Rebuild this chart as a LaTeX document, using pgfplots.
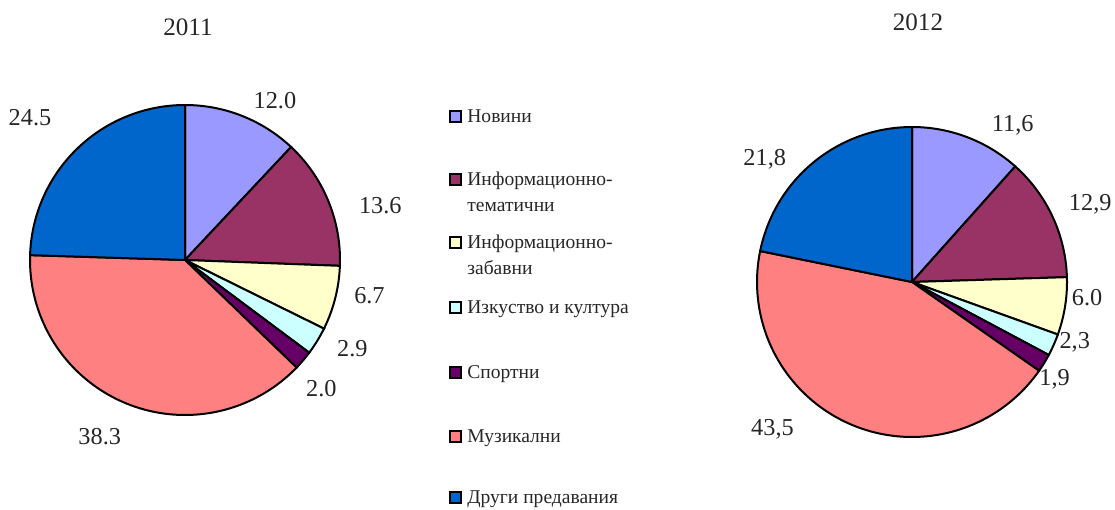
\documentclass[border=0pt]{standalone}
\usepackage{pgfplots}
\pgfplotsset{compat=1.18}
\usepackage{fontspec}
\setmainfont{Liberation Serif}

\definecolor{cNov}{HTML}{9999FF}
\definecolor{cTem}{HTML}{993366}
\definecolor{cZab}{HTML}{FFFFCC}
\definecolor{cIzk}{HTML}{CCFFFF}
\definecolor{cSpo}{HTML}{660066}
\definecolor{cMuz}{HTML}{FF8080}
\definecolor{cDru}{HTML}{0066CC}

% slices clockwise from 12 o'clock, value/colour pairs
\newcommand{\pieslices}[1]{%
  \def\angA{90}%
  \pgfplotsforeachungrouped \v/\c in {#1}{%
    \pgfmathsetmacro\angB{\angA-3.6*\v}%
    \edef\doslice{\noexpand\addplot[fill=\c, draw=black, line width=1bp,
      domain=\angB:\angA, samples=90]
      ({cos(x)},{sin(x)}) -- (axis cs:0,0) -- cycle;}%
    \doslice
    \let\angA\angB
  }%
}

\tikzset{lab/.style={font=\fontsize{12.2}{13}\selectfont, text=black!85}}
\pgfplotsset{pie/.style={hide axis, scale only axis, width=155bp, height=155bp,
  xmin=-1, xmax=1, ymin=-1, ymax=1, clip=false, anchor=center}}

\begin{document}
\begin{tikzpicture}
\path[use as bounding box] (0,0) rectangle (557.5bp,-255bp);

\begin{axis}[pie, at={(92.5bp,-130bp)}]
\pieslices{12.0/cNov, 13.6/cTem, 6.7/cZab, 2.9/cIzk, 2.0/cSpo, 38.3/cMuz, 24.5/cDru}
\node[lab] at (axis cs:0.58,1.03) {12.0};
\node[lab] at (axis cs:1.26,0.35) {13.6};
\node[lab] at (axis cs:1.19,-0.23) {6.7};
\node[lab] at (axis cs:1.08,-0.57) {2.9};
\node[lab] at (axis cs:0.88,-0.83) {2.0};
\node[lab] at (axis cs:-0.55,-1.14) {38.3};
\node[lab] at (axis cs:-1.0,0.92) {24.5};
\end{axis}

\begin{axis}[pie, at={(456bp,-141bp)}]
\pieslices{11.6/cNov, 12.9/cTem, 6.0/cZab, 2.3/cIzk, 1.9/cSpo, 43.5/cMuz, 21.8/cDru}
\node[lab] at (axis cs:0.65,1.01) {11,6};
\node[lab] at (axis cs:1.15,0.50) {12,9};
\node[lab] at (axis cs:1.13,-0.10) {6.0};
\node[lab] at (axis cs:1.05,-0.39) {2,3};
\node[lab] at (axis cs:0.92,-0.63) {1,9};
\node[lab] at (axis cs:-0.90,-0.95) {43,5};
\node[lab] at (axis cs:-0.95,0.79) {21,8};
\end{axis}

\begin{scope}[x=0.5bp, y=-0.5bp]
\node[font=\fontsize{12.6}{13}\selectfont, text=black!85] at (188,27) {2011};
\node[font=\fontsize{12.6}{13}\selectfont, text=black!85] at (918,22) {2012};
\tikzset{key/.style={draw=black, line width=1bp, fill=#1, minimum size=5.5bp, inner sep=0pt},
  lt/.style={anchor=base west, inner sep=0pt, font=\fontsize{9.8}{10}\selectfont, text=black!85}}
\node[key=cNov] at (456,117) {};
\node[lt] at (467,123) {Новини};
\node[key=cTem] at (456,180) {};
\node[lt] at (467,186) {Информационно-};
\node[lt] at (467,212) {тематични};
\node[key=cZab] at (456,243) {};
\node[lt] at (467,249) {Информационно-};
\node[lt] at (467,275) {забавни};
\node[key=cIzk] at (456,308) {};
\node[lt] at (467,314) {Изкуство и култура};
\node[key=cSpo] at (456,373) {};
\node[lt] at (467,379) {Спортни};
\node[key=cMuz] at (456,437) {};
\node[lt] at (467,443) {Музикални};
\node[key=cDru] at (456,498) {};
\node[lt] at (467,504) {Други предавания};
\end{scope}
\end{tikzpicture}
\end{document}
